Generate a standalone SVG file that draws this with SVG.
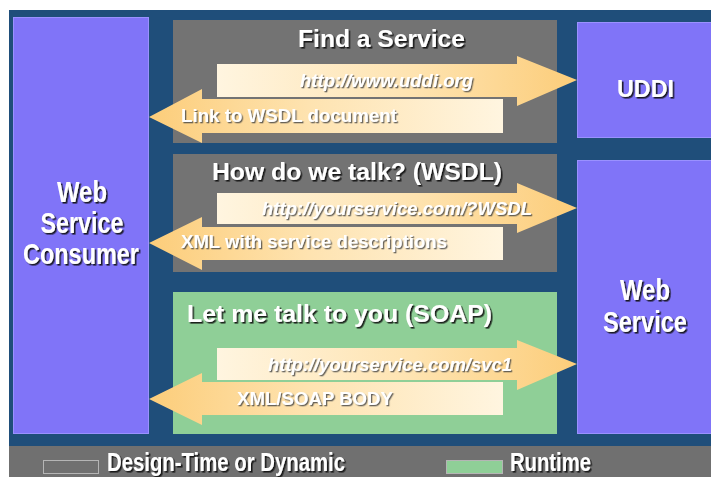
<svg xmlns="http://www.w3.org/2000/svg" width="711" height="477" viewBox="0 0 711 477">
<style>
.node{fill:#8074f8;stroke:#9a91ff;stroke-width:1}
.panel-gray{fill:#737373}
.panel-green{fill:#8fcf97}
.title{font-family:"Liberation Sans",Arial,sans-serif;font-weight:bold;font-size:24px;fill:#ffffff;filter:url(#sh)}
.lbl{font-family:"Liberation Sans",Arial,sans-serif;font-weight:bold;font-size:18px;fill:#ffffff;filter:url(#sh2)}
.url{font-style:italic}
.big{font-family:"Liberation Sans",Arial,sans-serif;font-weight:bold;font-size:30px;fill:#ffffff;text-anchor:middle;filter:url(#sh)}
.leg{font-family:"Liberation Sans",Arial,sans-serif;font-weight:bold;font-size:26px;fill:#ffffff;filter:url(#sh)}
.arR{fill:url(#gR)}
.arL{fill:url(#gL)}
</style>
<defs>
<linearGradient id="gR" x1="0" y1="0" x2="1" y2="0">
<stop offset="0" stop-color="#fff5e0"/>
<stop offset="0.55" stop-color="#fee3b0"/>
<stop offset="1" stop-color="#fccd7a"/>
</linearGradient>
<linearGradient id="gL" x1="0" y1="0" x2="1" y2="0">
<stop offset="0" stop-color="#fccd7a"/>
<stop offset="0.45" stop-color="#fee3b0"/>
<stop offset="1" stop-color="#fff5e0"/>
</linearGradient>
<filter id="sh" x="-10%" y="-20%" width="120%" height="150%">
<feDropShadow dx="1.6" dy="1.6" stdDeviation="0.4" flood-color="#111111" flood-opacity="0.9"/>
</filter>
<filter id="sh2" x="-10%" y="-20%" width="120%" height="150%">
<feDropShadow dx="1.3" dy="1.3" stdDeviation="0.4" flood-color="#444444" flood-opacity="0.8"/>
</filter>
</defs>

<rect x="0" y="0" width="711" height="477" fill="#ffffff"/>
<rect x="9" y="10" width="702" height="436" fill="#1f4e7a"/>
<rect x="9" y="446" width="702" height="31" fill="#707070"/>

<g id="panel-find">
<rect class="panel-gray" x="173" y="20" width="384" height="123"/>
<text class="title" x="298" y="47" textLength="167" lengthAdjust="spacingAndGlyphs">Find a Service</text>
</g>
<g id="panel-wsdl">
<rect class="panel-gray" x="173" y="154" width="384" height="118"/>
<text class="title" x="212" y="180" textLength="290" lengthAdjust="spacingAndGlyphs">How do we talk? (WSDL)</text>
</g>
<g id="panel-soap">
<rect class="panel-green" x="173" y="292" width="384" height="142"/>
<text class="title" x="187" y="322" textLength="305" lengthAdjust="spacingAndGlyphs">Let me talk to you (SOAP)</text>
</g>

<g id="consumer">
<rect class="node" x="13.5" y="17.5" width="135" height="416"/>
<text class="big" x="82" y="202" textLength="50" lengthAdjust="spacingAndGlyphs">Web</text>
<text class="big" x="82" y="233" textLength="83" lengthAdjust="spacingAndGlyphs">Service</text>
<text class="big" x="81" y="264" textLength="116" lengthAdjust="spacingAndGlyphs">Consumer</text>
</g>
<g id="uddi">
<rect class="node" x="577.5" y="22.5" width="140" height="115"/>
<text class="big" x="645.5" y="97" style="font-size:24px" textLength="57" lengthAdjust="spacingAndGlyphs">UDDI</text>
</g>
<g id="webservice">
<rect class="node" x="577.5" y="160.5" width="140" height="273"/>
<text class="big" x="645" y="300" textLength="50" lengthAdjust="spacingAndGlyphs">Web</text>
<text class="big" x="645" y="332" textLength="84" lengthAdjust="spacingAndGlyphs">Service</text>
</g>

<g id="connectors">
<g id="c-uddi-req">
<polygon class="arR" points="217,64 517,64 517,56 577,80 517,106 517,97 217,97"/>
<text class="lbl url" x="300" y="87" textLength="173" lengthAdjust="spacingAndGlyphs">http://www.uddi.org</text>
</g>
<g id="c-uddi-resp">
<polygon class="arL" points="149,117 202,89 202,99 503,99 503,133 202,133 202,143"/>
<text class="lbl" x="181" y="122" textLength="216" lengthAdjust="spacingAndGlyphs">Link to WSDL document</text>
</g>
<g id="c-wsdl-req">
<polygon class="arR" points="217,193 517,193 517,183 577,208 517,233 517,224 217,224"/>
<text class="lbl url" x="262" y="215" textLength="270" lengthAdjust="spacingAndGlyphs">http://yourservice.com/?WSDL</text>
</g>
<g id="c-wsdl-resp">
<polygon class="arL" points="149,243 202,217 202,227 503,227 503,260 202,260 202,270"/>
<text class="lbl" x="181" y="248" textLength="266" lengthAdjust="spacingAndGlyphs">XML with service descriptions</text>
</g>
<g id="c-soap-req">
<polygon class="arR" points="217,348 517,348 517,340 577,364 517,390 517,380 217,380"/>
<text class="lbl url" x="268" y="371" textLength="244" lengthAdjust="spacingAndGlyphs">http://yourservice.com/svc1</text>
</g>
<g id="c-soap-resp">
<polygon class="arL" points="149,399 202,373 202,382 503,382 503,415 202,415 202,425"/>
<text class="lbl" x="237" y="405" textLength="156" lengthAdjust="spacingAndGlyphs">XML/SOAP BODY</text>
</g>
</g>

<g id="legend">
<rect x="43.5" y="460.5" width="55" height="13" fill="none" stroke="#b5b5b5" stroke-width="1"/>
<text class="leg" x="107" y="471" textLength="238" lengthAdjust="spacingAndGlyphs">Design-Time or Dynamic</text>
<rect x="446.5" y="460.5" width="56" height="13" fill="#8fcf97" stroke="#b5b5b5" stroke-width="1"/>
<text class="leg" x="510" y="471" textLength="81" lengthAdjust="spacingAndGlyphs">Runtime</text>
</g>
</svg>
